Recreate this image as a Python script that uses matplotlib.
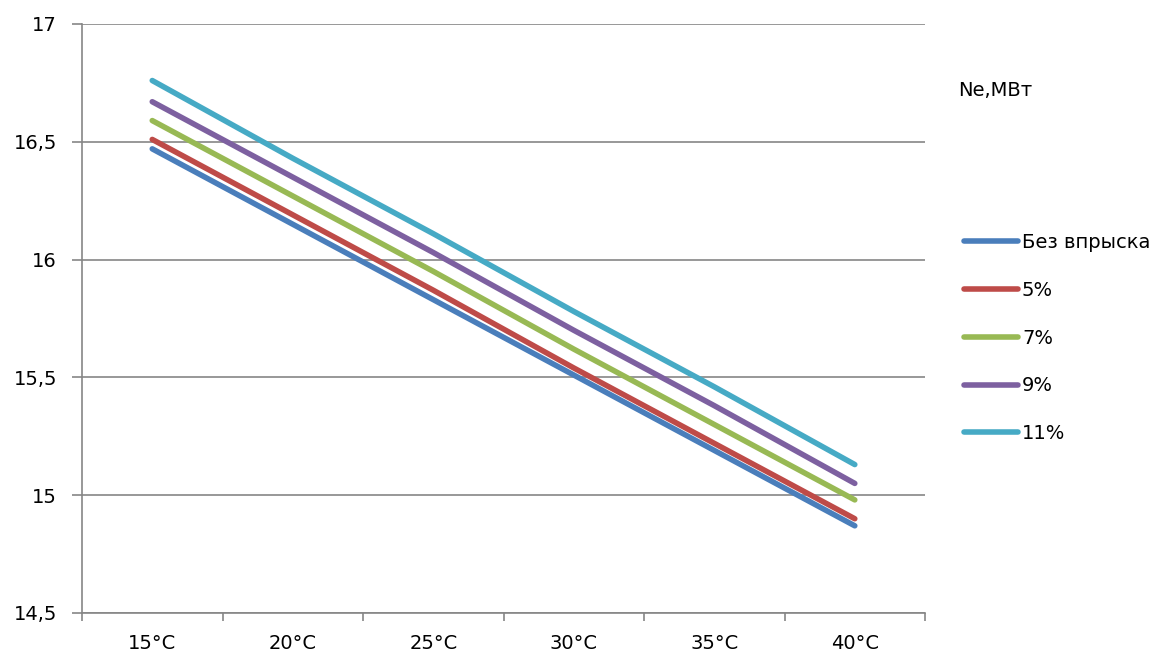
import matplotlib.pyplot as plt
import numpy as np

categories = ["15°C", "20°C", "25°C", "30°C", "35°C", "40°C"]
series_names = ["Без впрыска", "5%", "7%", "9%", "11%"]
bez_vpryska = [16.47, 16.15, 15.83, 15.51, 15.19, 14.87]
inj_5 = [16.51, 16.19, 15.87, 15.54, 15.22, 14.90]
inj_7 = [16.59, 16.27, 15.95, 15.62, 15.30, 14.98]
inj_9 = [16.67, 16.35, 16.03, 15.70, 15.38, 15.05]
inj_11 = [16.76, 16.43, 16.11, 15.78, 15.46, 15.13]
y_ticks = [14.5, 15, 15.5, 16, 16.5, 17]
y_labels = ["14,5", "15", "15,5", "16", "16,5", "17"]

colors = ["#4A7EBB", "#BE4B48", "#98B954", "#7D60A0", "#46AAC5"]
grid_color = "#868686"
fs = 14

fig = plt.figure(figsize=(11.63, 6.57), dpi=100)
ax = fig.add_axes([0.0705, 0.067, 0.7249, 0.8965])

x = np.arange(len(categories))
all_series = [bez_vpryska, inj_5, inj_7, inj_9, inj_11]
for vals, name, c in zip(all_series, series_names, colors):
    ax.plot(x, vals, color=c, lw=4, solid_capstyle="round", label=name)

ax.set_xlim(-0.5, len(categories) - 0.5)
ax.set_ylim(14.5, 17)
ax.set_yticks(y_ticks)
ax.set_yticklabels(y_labels, fontsize=fs)
ax.set_xticks(x)
ax.set_xticklabels(categories, fontsize=fs)
ax.set_xticks(np.arange(-0.5, len(categories)), minor=True)
ax.tick_params(axis="x", which="major", length=0, pad=15)
ax.tick_params(axis="x", which="minor", length=6, color=grid_color, width=1.2)
ax.tick_params(axis="y", length=7, color=grid_color, width=1.2, pad=11)

ax.grid(axis="y", color=grid_color, lw=1.2)
ax.set_axisbelow(True)
for side in ["top", "right"]:
    ax.spines[side].set_visible(False)
for side in ["left", "bottom"]:
    ax.spines[side].set_color(grid_color)
    ax.spines[side].set_linewidth(1.2)

fig.text(0.824, 0.863, "Ne,МВт", fontsize=fs, va="center", ha="left")

leg = fig.legend(loc="upper left", bbox_to_anchor=(0.8135, 0.672), frameon=False,
                 fontsize=fs, handlelength=2.8, handletextpad=0.2,
                 labelspacing=1.48)
for line in leg.get_lines():
    line.set_linewidth(4)

fig.savefig("out.png", dpi=100)
